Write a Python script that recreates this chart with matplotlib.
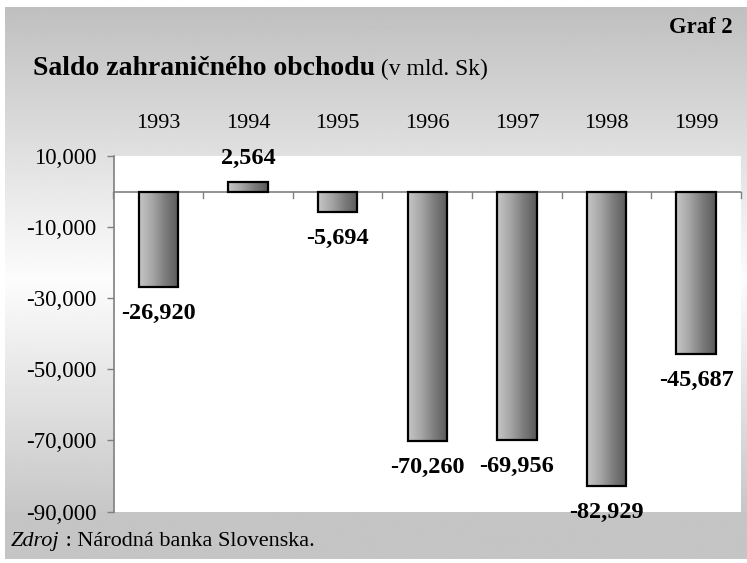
import numpy as np
import matplotlib
matplotlib.use("Agg")
import matplotlib.pyplot as plt
import matplotlib.transforms as mtransforms
from matplotlib.colors import LinearSegmentedColormap

years = ["1993", "1994", "1995", "1996", "1997", "1998", "1999"]
values = [-26.920, 2.564, -5.694, -70.260, -69.956, -82.929, -45.687]
yticks = [10, -10, -30, -50, -70, -90]

title_bold = "Saldo zahraničného obchodu"
title_unit = " (v mld. Sk)"
graf_label = "Graf 2"
source_it = "Zdroj"
source_rest = " : Národná banka Slovenska."

def fmt(v):
    return f"{v:.3f}".replace(".", ",")

W, H = 747, 563
fig = plt.figure(figsize=(W / 100, H / 100), dpi=100)
fig.patch.set_facecolor("white")

# background gradient panel
bg = fig.add_axes([5 / W, 4 / H, 1 - 5 / W, 1 - 11 / H], zorder=0)
bg.set_axis_off()
n = 400
ys = np.linspace(0, 1, n)  # 0 = top
top_px, bottom_px = 7, 559
ypix = top_px + ys * (bottom_px - top_px)
col = np.empty(n)
for i, yp in enumerate(ypix):
    if yp <= 280:
        t = (yp - top_px) / (280 - top_px)
        col[i] = 0.75 + (0.99 - 0.75) * t
    elif yp <= 512:
        t = (yp - 280) / (512 - 280)
        col[i] = 0.99 + (0.78 - 0.99) * t
    else:
        col[i] = 0.77
img = np.repeat(col[:, None], 2, axis=1)
bg.imshow(img, cmap="gray", vmin=0, vmax=1, aspect="auto", extent=[0, 1, 0, 1], interpolation="bilinear")
bg.set_xlim(0, 1)
bg.set_ylim(0, 1)

plt.rcParams["font.family"] = ["Liberation Serif", "DejaVu Serif"]

left, right, top, bottom = 113.5, 741, 156, 511.5
ax = fig.add_axes([left / W, 1 - bottom / H, (right - left) / W, (bottom - top) / H], zorder=1)
ax.set_facecolor("white")
x = np.arange(len(years))
ax.set_xlim(-0.5, len(years) - 0.5)
ax.set_ylim(-90, 10)

bw = 0.44
bars = ax.bar(x, values, width=bw, color="none", edgecolor="black", linewidth=1.6, zorder=3)
grad_cmap = LinearSegmentedColormap.from_list("g", ["#c6c6c6", "#a6a6a6", "#7c7c7c", "#5a5a5a"])
grad = np.linspace(0, 1, 256)[None, :]
for b in bars:
    x0, y0 = b.get_x(), b.get_y()
    w, h = b.get_width(), b.get_height()
    im = ax.imshow(grad, cmap=grad_cmap, aspect="auto",
                   extent=[x0, x0 + w, min(y0, y0 + h), max(y0, y0 + h)],
                   interpolation="bilinear", zorder=2)
    im.set_clip_path(b)
ax.set_xlim(-0.5, len(years) - 0.5)
ax.set_ylim(-90, 10)

for xi, v in zip(x, values):
    if v >= 0:
        ax.annotate(fmt(v), (xi, v), xytext=(0, 9.5), textcoords="offset points",
                    ha="center", va="bottom", fontsize=17.5, fontweight="bold", zorder=4,
                    annotation_clip=False)
    else:
        ax.annotate(fmt(v), (xi, v), xytext=(0, -11.5), textcoords="offset points",
                    ha="center", va="top", fontsize=17.5, fontweight="bold", zorder=4,
                    annotation_clip=False)

for s in ["top", "right", "bottom"]:
    ax.spines[s].set_visible(False)
ax.spines["left"].set_color("#808080")
ax.spines["left"].set_linewidth(1.2)
ax.axhline(0, color="#808080", linewidth=1.2, zorder=1)

ax.set_yticks(yticks)
ax.set_yticklabels([fmt(t) for t in yticks], fontsize=16.5)
ax.tick_params(axis="y", length=5, width=1.0, color="#808080", pad=7)

# x ticks at category boundaries on zero line
for b in np.arange(len(years) + 1) - 0.5:
    ax.plot([b, b], [0, -1.7], color="#808080", linewidth=1.0, zorder=1, clip_on=False)
ax.set_xticks([])

# year labels above the plot
blend = mtransforms.blended_transform_factory(ax.transData, fig.transFigure)
for xi, yr in zip(x, years):
    ax.text(xi, 1 - 128 / H, yr, transform=blend, ha="center", va="baseline", fontsize=16)

# title texts
t1 = fig.text(33 / W, 1 - 75 / H, title_bold, fontsize=20, fontweight="bold", ha="left", va="baseline")
fig.canvas.draw()
bb = t1.get_window_extent()
fig.text(bb.x1 / W, 1 - 75 / H, title_unit, fontsize=17, ha="left", va="baseline")
fig.text(733 / W, 1 - 33 / H, graf_label, fontsize=16.3, fontweight="bold", ha="right", va="baseline")

s1 = fig.text(11 / W, 1 - 546 / H, source_it, fontsize=16, fontstyle="italic", ha="left", va="baseline")
fig.canvas.draw()
bb2 = s1.get_window_extent()
fig.text(bb2.x1 / W, 1 - 546 / H, source_rest, fontsize=16, ha="left", va="baseline")

fig.savefig("out.png", dpi=100)
